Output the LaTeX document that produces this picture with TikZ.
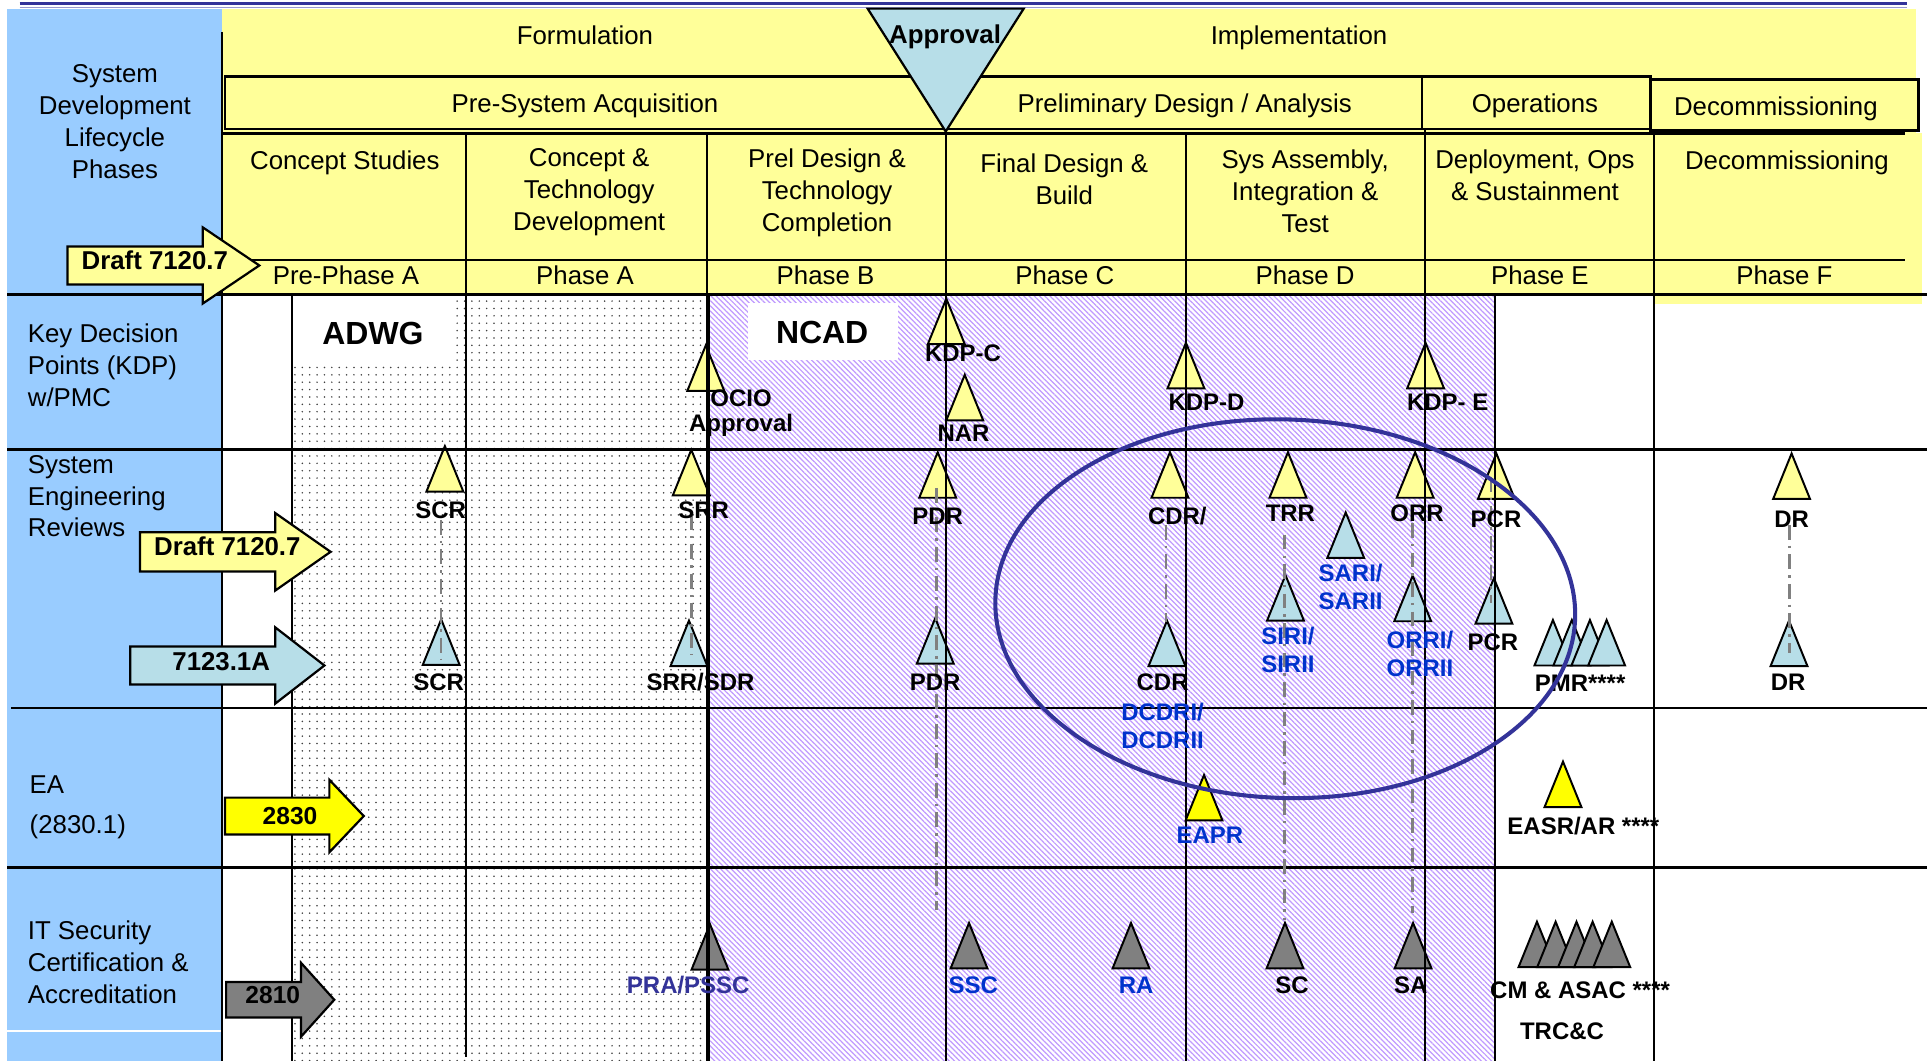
\documentclass[tikz,border=0pt]{standalone}
\usepackage{fontspec}
\setmainfont{Liberation Sans}
\usetikzlibrary{patterns.meta}
\definecolor{colblue}{HTML}{99CCFF}
\definecolor{hdryel}{HTML}{FFFF99}
\definecolor{tricyan}{HTML}{B7DEE8}
\definecolor{trigray}{HTML}{808080}
\definecolor{bryel}{HTML}{FFFF00}
\definecolor{ellblue}{HTML}{333399}
\definecolor{lblblue}{HTML}{0033CC}
\definecolor{hatchc}{HTML}{C09AFF}
\newcommand{\mytri}[3]{\draw[tri,fill=#3] (#1,#2) -- ++(-15,37) -- ++(30,0) -- cycle;}
\newcommand{\myarrow}[7]{\draw[barr,fill=#7] (#1,#4-#5) -- (#2,#4-#5) -- (#2,#4-#6) -- (#3,#4) -- (#2,#4+#6) -- (#2,#4+#5) -- (#1,#4+#5) -- cycle;}
\begin{document}
\begin{tikzpicture}[x=1pt,y=-1pt,
  hdr/.style={font=\fontsize{21}{26}\selectfont,align=center,inner sep=0pt},
  hdrb/.style={hdr,anchor=base},
  rowlbl/.style={font=\fontsize{21}{26}\selectfont,align=left,anchor=west,inner sep=0pt},
  lbl/.style={font=\bfseries\fontsize{19.5}{23}\selectfont,inner sep=0pt,anchor=base},
  mlbl/.style={font=\bfseries\fontsize{19.5}{23}\selectfont,inner sep=0pt,align=center},
  blbl/.style={lbl,text=lblblue},
  bmlbl/.style={mlbl,text=lblblue},
  albl/.style={font=\bfseries\fontsize{21}{25}\selectfont,inner sep=0pt,anchor=base},
  grid/.style={draw=black,line width=2.2pt},
  vgrid/.style={draw=black,line width=1.6pt},
  tri/.style={draw=black,line width=1.6pt,line join=miter},
  barr/.style={draw=black,line width=1.8pt,line join=miter},
  dd/.style={draw=black!50,line width=2pt,dash pattern=on 12pt off 5pt on 2pt off 5pt}]
\useasboundingbox (0,0) rectangle (1568,863);
\fill[white] (0,0) rectangle (1568,863);
% top lines
\draw[ellblue,line width=2pt] (16,3) -- (1552,3);
\draw[ellblue!50,line width=1pt] (16,6) -- (1552,6);
% backgrounds
\fill[colblue] (6,7) rectangle (181,863);
\draw[white,line width=1pt] (6,839) -- (180,839);
\fill[hdryel] (181,7) rectangle (1559,108.5);
\fill[hdryel] (1343,64.6) rectangle (1561,106);
\fill[hdryel] (181,108.5) rectangle (1564,239.5);
\fill[hdryel] (1346,239.5) rectangle (1564,247);
% pattern regions
\fill[pattern={Dots[distance=6pt,radius=0.7pt]},pattern color=black!75] (237.5,239.5) rectangle (576,863);
\fill[pattern={Lines[angle=-45,distance=3pt,line width=1pt]},pattern color=hatchc] (576,239.5) rectangle (1216.5,863);
\fill[white] (238.5,241) rectangle (368,295);
\fill[white] (609,246.5) rectangle (731,293);
\node[font=\bfseries\fontsize{26}{30}\selectfont,inner sep=0pt,anchor=base] (adwg) at (303.5,280.4) {ADWG};
\node[font=\bfseries\fontsize{26}{30}\selectfont,inner sep=0pt,anchor=base] (ncad) at (669,279.4) {NCAD};
% triangles KDP row
\mytri{574.3}{281}{hdryel}
\mytri{770}{243}{hdryel}
\mytri{785}{305}{hdryel}
\mytri{965}{279}{hdryel}
\mytri{1160}{279}{hdryel}
% SER yellow
\mytri{362}{363}{hdryel}
\mytri{562.5}{366}{hdryel}
\mytri{763}{368}{hdryel}
\mytri{952}{368}{hdryel}
\mytri{1048}{368}{hdryel}
\mytri{1151.5}{368}{hdryel}
\mytri{1217.6}{369}{hdryel}
\mytri{1457.8}{369}{hdryel}
% SER cyan
\mytri{359}{504}{tricyan}
\mytri{560.6}{505}{tricyan}
\mytri{761}{503}{tricyan}
\mytri{949.6}{505}{tricyan}
\mytri{1095}{417}{tricyan}
\mytri{1046}{468}{tricyan}
\mytri{1149.5}{468.5}{tricyan}
\mytri{1215.6}{470.5}{tricyan}
\mytri{1263.6}{504.5}{tricyan}
\mytri{1279}{504.5}{tricyan}
\mytri{1293.7}{504.5}{tricyan}
\mytri{1307.3}{504.5}{tricyan}
\mytri{1455.7}{505}{tricyan}
% EA
\mytri{979.7}{630.6}{bryel}
\mytri{1271.8}{619.7}{bryel}
% IT
\mytri{577.7}{752}{trigray}
\mytri{788.5}{751}{trigray}
\mytri{920.3}{751}{trigray}
\mytri{1045.6}{751}{trigray}
\mytri{1149.8}{751}{trigray}
\mytri{1250.6}{750}{trigray}
\mytri{1265.8}{750}{trigray}
\mytri{1282.8}{750}{trigray}
\mytri{1295.9}{750}{trigray}
\mytri{1311.5}{750}{trigray}
% header boxes and grid
\draw[grid] (183,62.4) rectangle (1157,105);
\draw[grid] (1157,62.4) rectangle (1343,105);
\draw[grid] (1343,64.6) rectangle (1561,106);
\draw[grid] (181,108.5) -- (1550,108.5);
\draw[grid] (181,211.6) -- (1550,211.6);
\draw[grid] (6,239.5) -- (1568,239.5);
\draw[grid] (6,366) -- (1568,366);
\draw[grid] (9,576) -- (1568,576);
\draw[grid] (6,706) -- (1568,706);
\draw[vgrid] (180.6,26) -- (180.6,863);
\draw[vgrid] (237.5,239.5) -- (237.5,863);
\draw[vgrid] (379,108.5) -- (379,860);
\draw[vgrid] (575,108.5) -- (575,239.5);
\draw[draw=black,line width=3.5pt] (576,239.5) -- (576,863);
\draw[vgrid] (770,105) -- (770,863);
\draw[vgrid] (965,108.5) -- (965,863);
\draw[vgrid] (1159.5,105) -- (1159.5,863);
\draw[vgrid] (1216.5,239.5) -- (1216.5,863);
\draw[vgrid] (1346,106) -- (1346,863);
% dash-dot connectors
\coordinate (scrA) at (359,423);   \coordinate (scrB) at (359,537);
\coordinate (srrA) at (562.5,419); \coordinate (srrB) at (562.5,533);
\coordinate (pdrA) at (762,397);   \coordinate (pdrB) at (762,740.5);
\coordinate (cdrA) at (948.8,427); \coordinate (cdrB) at (948.8,506);
\coordinate (trrA) at (1045.3,435); \coordinate (trrB) at (1045.3,748.6);
\coordinate (orrA) at (1149.5,425.6); \coordinate (orrB) at (1149.5,743);
\coordinate (pcrA) at (1213,388);  \coordinate (pcrB) at (1213,490.8);
\coordinate (drA) at (1456,427);   \coordinate (drB) at (1456,531);
\draw[dd] (scrA) -- (scrB);
\draw[dd] (srrA) -- (srrB);
\draw[dd] (pdrA) -- (pdrB);
\draw[dd] (cdrA) -- (cdrB);
\draw[dd] (trrA) -- (trrB);
\draw[dd] (orrA) -- (orrB);
\draw[dd] (pcrA) -- (pcrB);
\draw[dd] (drA) -- (drB);
% header texts
\node[hdrb] (formul) at (476,36.1) {Formulation};
\node[hdrb] (implem) at (1057,36.1) {Implementation};
\node[hdrb] (presys) at (476,91.6) {Pre-System Acquisition};
\node[hdrb] (prelim) at (964,91.6) {Preliminary Design / Analysis};
\node[hdrb] (ops) at (1249,91.6) {Operations};
\node[hdrb] (decomA) at (1445,93.6) {Decommissioning};
\node[hdrb] (cstud) at (280.6,137.6) {Concept Studies};
\node[hdr] (ctd) at (479.4,156.1) {Concept \&\\Technology\\Development};
\node[hdr] (pdtc) at (673,157.1) {Prel Design \&\\Technology\\Completion};
\node[hdr] (fdb) at (866,145.8) {Final Design \&\\Build};
\node[hdr] (sait) at (1062,156) {Sys Assembly,\\Integration \&\\Test};
\node[hdr] (dos) at (1249,143) {Deployment, Ops\\\& Sustainment};
\node[hdrb] (decomB) at (1454,137.6) {Decommissioning};
\node[hdrb] (ppa) at (281.5,231.4) {Pre-Phase A};
\node[hdrb] (pa) at (476,231.4) {Phase A};
\node[hdrb] (pb) at (671.7,231.4) {Phase B};
\node[hdrb] (pc) at (866.4,231.4) {Phase C};
\node[hdrb] (pd) at (1062,231.4) {Phase D};
\node[hdrb] (pe) at (1253,231.4) {Phase E};
\node[hdrb] (pf) at (1452,231.4) {Phase F};
% left column labels
\node[hdr] (sdlc) at (93.5,99) {System\\Development\\Lifecycle\\Phases};
\node[rowlbl] (kdp) at (22.5,297.5) {Key Decision\\Points (KDP)\\w/PMC};
\node[rowlbl] (ser) at (22.5,403.7) {System\\Engineering\\Reviews};
\node[rowlbl,font=\fontsize{21}{32}\selectfont] (ea) at (24,657) {EA\\(2830.1)};
\node[rowlbl] (itsec) at (22.5,783) {IT Security\\Certification \&\\Accreditation};
% KDP labels
\node[mlbl,font=\bfseries\fontsize{19.5}{20.5}\selectfont] (ocio) at (603,336.3) {OCIO\\Approval};
\node[lbl] (kdpc) at (783.6,294.4) {KDP-C};
\node[lbl] (nar) at (784,359) {NAR};
\node[lbl] (kdpd) at (981.7,334) {KDP-D};
\node[lbl] (kdpe) at (1178,334) {KDP- E};
% SER labels
\node[lbl] (scrY) at (358.6,422) {SCR};
\node[lbl] (srrY) at (572.6,422) {SRR};
\node[lbl] (pdrY) at (763,426.8) {PDR};
\node[lbl] (cdrY) at (958,426.8) {CDR/};
\node[lbl] (trrY) at (1050,424.6) {TRR};
\node[lbl] (orrY) at (1153,424.6) {ORR};
\node[lbl] (pcrY) at (1217.3,429.5) {PCR};
\node[lbl] (drY) at (1457.8,429.5) {DR};
\node[lbl] (scrC) at (357,562) {SCR};
\node[lbl] (srrC) at (570,562) {SRR/SDR};
\node[lbl] (pdrC) at (761,562) {PDR};
\node[lbl] (cdrC) at (946,562) {CDR};
\node[bmlbl] (dcdr) at (946,590.5) {DCDRI/\\DCDRII};
\node[bmlbl] (sari) at (1099,477.5) {SARI/\\SARII};
\node[bmlbl] (siri) at (1048,529) {SIRI/\\SIRII};
\node[bmlbl] (orri) at (1155.4,532) {ORRI/\\ORRII};
\node[lbl] (pcrC) at (1214.8,529) {PCR};
\node[lbl] (pmr) at (1285.7,563) {PMR****};
\node[lbl] (drC) at (1455,562) {DR};
% EA labels
\node[blbl] (eapr) at (984.5,686.5) {EAPR};
\node[lbl] (easr) at (1288.4,679) {EASR/AR ****};
% IT labels
\node[lbl,text=ellblue] (prapssc) at (560,808.6) {PRA/PSSC};
\node[blbl] (ssc) at (792,808.6) {SSC};
\node[blbl] (ra) at (924.4,808.6) {RA};
\node[lbl] (sc) at (1051.4,808.6) {SC};
\node[lbl] (sa) at (1148,808.6) {SA};
\node[lbl] (cmasac) at (1285.7,812.6) {CM \& ASAC ****};
\node[lbl] (trcc) at (1271,846) {TRC\&C};
% block arrows
\myarrow{55}{165}{211}{216}{15.5}{31}{hdryel}
\node[albl] (draftA) at (126,219.2) {Draft 7120.7};
\myarrow{114}{224}{269}{449}{16}{31.5}{hdryel}
\node[albl] (draftB) at (185,452.4) {Draft 7120.7};
\myarrow{106}{224}{264}{541.5}{15.5}{31}{tricyan}
\node[albl] (nsa) at (180,545.6) {7123.1A};
\myarrow{183}{268}{296}{664}{15}{29.5}{bryel}
\node[albl,font=\bfseries\fontsize{20}{24}\selectfont] (ea2830) at (236,670.8) {2830};
\myarrow{184}{245}{272}{813.5}{14.5}{30}{trigray}
\node[albl,font=\bfseries\fontsize{20}{24}\selectfont] (it2810) at (222,816.8) {2810};
% approval triangle
\draw[tri,fill=tricyan,line width=1.8pt] (706,7) -- (833,7) -- (769.5,107) -- cycle;
\node[albl] (approval) at (769,35.6) {Approval};
% ellipse
\draw[ellblue,line width=3.3pt,rotate around={-2:(1045.8,495.3)}] (1045.8,495.3) ellipse [x radius=236pt,y radius=154pt];
\end{tikzpicture}
\end{document}
